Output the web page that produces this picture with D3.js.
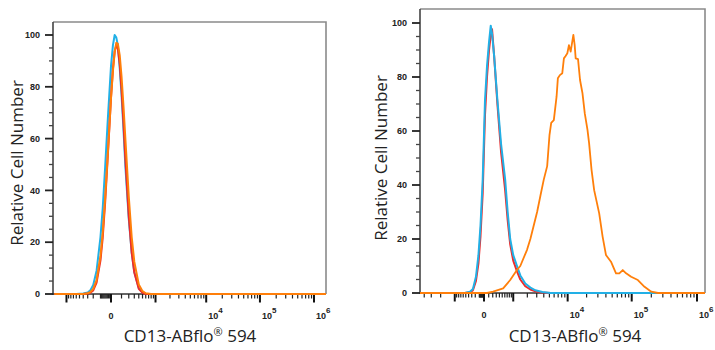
<!DOCTYPE html>
<html><head><meta charset="utf-8">
<script src="https://cdn.jsdelivr.net/npm/d3@7"></script>
<style>body{margin:0;background:#fff}svg{display:block}</style>
</head><body><svg id="c" width="715" height="350"></svg>
<script>
// ---- data ----
const yTicks = [0, 20, 40, 60, 80, 100];
const xMajorTicks = [-1000, 0, 1000, 10000, 100000, 1000000];
const xTickLabels = [
  {v: 0, base: "0", exp: ""},
  {v: 10000, base: "10", exp: "4"},
  {v: 100000, base: "10", exp: "5"},
  {v: 1000000, base: "10", exp: "6"}
];
const xTitle = "CD13-ABflo";
const xTitleSup = "®";
const xTitleEnd = " 594";
const yTitle = "Relative Cell Number";

// left panel (all three overlapping)
const leftX = [-1800, -600, -400, -300, -250, -200, -150, -100, -75, -50, -25, 0, 15, 30, 45, 60, 80, 100, 125, 150, 200, 250, 300, 400, 500, 600, 800, 1700000];
const leftCyan = [0, 0, 0.2, 0.6, 1.4, 3.5, 9, 22, 33, 49, 68, 88, 96, 100, 99, 96, 87, 77, 63, 49, 29, 16, 8.5, 2.3, 0.6, 0.1, 0, 0];
const leftRed = [0, 0, 0, 0.2, 0.5, 1.4, 4.4, 13, 21.7, 35.4, 54, 75.8, 86.8, 93.6, 96, 94.8, 88.6, 79, 65.5, 51.7, 30, 16, 8.3, 2, 0.5, 0, 0, 0];
const leftOrange = [0, 0, 0, 0.3, 0.7, 2, 5.4, 14.7, 23.6, 37, 54.7, 75.6, 86, 93.5, 97, 96.6, 92, 84, 72, 59.5, 37.6, 22, 12.5, 3.7, 1.1, 0.3, 0, 0];

// right panel controls
const rightX = [-5000, -535, -357, -265, -182, -120, -73, -26, 20, 62, 108, 149, 182, 237, 335, 460, 615, 723, 842, 1000, 1220, 1440, 1820, 2290, 2840, 3790, 5200, 1400000];
const rightCyan = [0, 0, 0.5, 1.5, 6, 14, 25, 42, 71.5, 84, 93, 99, 96, 88, 71.5, 55, 42, 30, 20, 14, 10, 6.5, 3.5, 2, 1, 0.4, 0, 0];
const rightRed = [0, 0, 0.3, 1, 4.5, 11, 21, 37, 66, 80, 90, 95.5, 97.7, 88, 70, 52, 38, 27, 18, 12, 8, 5, 2.5, 1.3, 0.6, 0.2, 0, 0];
// right panel stained sample
const rightOrangeX = [-5000, 62, 209, 535, 842, 1217, 1437, 1971, 2285, 3047, 3492, 3998, 4580, 5016, 5361, 5933, 6589, 6922, 7473, 8185, 8695, 9268, 9886, 10490, 11180, 12350, 12960, 13450, 14650, 15760, 17220, 18730, 20660, 21910, 23910, 26270, 31470, 35560, 40050, 47930, 57320, 64500, 72840, 81960, 97970, 124400, 157300, 199600, 253300, 1400000];
const rightOrange = [0, 0, 0.5, 1.7, 4.8, 8.5, 10, 16, 20, 30, 36, 42, 47, 58.5, 63, 64, 72.7, 79.5, 80.7, 81.4, 86.9, 87.8, 88.8, 91.8, 89.4, 95.6, 91.8, 86.9, 86.6, 78.9, 74, 66.5, 60.4, 55.4, 45.6, 38.1, 29.5, 20.9, 14.1, 11.6, 7.3, 7.3, 8.5, 7.3, 6, 4.8, 2.3, 0.5, 0, 0];

const COLORS = {cyan: "#22b0e6", red: "#ee2a2a", orange: "#ff7f0a"};

// minor tick values (logicle-like axis)
const xMinorTicks = [];
for (let k = 1; k <= 9; k++) xMinorTicks.push(-k * 10);
for (let k = 1; k <= 9; k++) { xMinorTicks.push(-k * 100); xMinorTicks.push(k * 100); }
for (let k = 2; k <= 9; k++) { xMinorTicks.push(-k * 1000); xMinorTicks.push(k * 1000); xMinorTicks.push(k * 10000); xMinorTicks.push(k * 100000); }

const svg = d3.select("#c");
const tickFont = "'Liberation Sans', Arial, sans-serif";
const titleFont = "'Open Sans', 'Noto Sans', sans-serif";

function panel(cfg, id) {
  const g = svg.append("g");
  const x = d3.scaleSymlog().constant(cfg.c).domain([0, 1e6]).range([cfg.zeroPx, cfg.e6Px]);
  const y = d3.scaleLinear().domain([0, 100]).range([cfg.y0, cfg.y100]);

  // frame top/right
  g.append("path")
    .attr("d", `M${cfg.x0},${cfg.top}H${cfg.x1}V${cfg.y0}`)
    .attr("fill", "none").attr("stroke", "#8a8a8a").attr("stroke-width", 1.6);

  // y axis
  const yAxis = g.append("g");
  yAxis.append("line").attr("x1", cfg.x0).attr("x2", cfg.x0).attr("y1", cfg.top).attr("y2", cfg.y0 + 1)
    .attr("stroke", "#444").attr("stroke-width", 1.6);
  const yMinor = d3.range(5, 100, 5).filter(v => v % 20 !== 0);
  yAxis.selectAll(".ym").data(yMinor).join("line")
    .attr("x1", cfg.x0 - 4).attr("x2", cfg.x0).attr("y1", d => y(d)).attr("y2", d => y(d))
    .attr("stroke", "#444").attr("stroke-width", 1.3);
  yAxis.selectAll(".yM").data(yTicks).join("line")
    .attr("x1", cfg.x0 - 8).attr("x2", cfg.x0).attr("y1", d => y(d)).attr("y2", d => y(d))
    .attr("stroke", "#222").attr("stroke-width", 1.8);
  yAxis.selectAll(".yl").data(yTicks).join("text")
    .attr("x", cfg.x0 - 13).attr("y", d => y(d) + 3.2)
    .attr("text-anchor", "end").attr("font-family", tickFont).attr("font-weight", "bold")
    .attr("font-size", 9).attr("fill", "#222").text(d => d);

  // x axis
  const xAxis = g.append("g");
  xAxis.append("line").attr("x1", cfg.x0).attr("x2", cfg.x1).attr("y1", cfg.y0).attr("y2", cfg.y0)
    .attr("stroke", "#333").attr("stroke-width", 1.6);
  const inside = v => { const p = x(v); return p >= cfg.x0 + 2 && p <= cfg.x1; };
  xAxis.selectAll(".xm").data(xMinorTicks.filter(inside)).join("line")
    .attr("x1", d => x(d)).attr("x2", d => x(d)).attr("y1", cfg.y0).attr("y2", cfg.y0 + 4.5)
    .attr("stroke", "#222").attr("stroke-width", 1.2);
  xAxis.selectAll(".xM").data(xMajorTicks.filter(inside)).join("line")
    .attr("x1", d => x(d)).attr("x2", d => x(d)).attr("y1", cfg.y0).attr("y2", cfg.y0 + 8.5)
    .attr("stroke", "#111").attr("stroke-width", 2);
  const lbl = xAxis.selectAll(".xl").data(xTickLabels).join("text")
    .attr("x", d => d.exp ? x(d.v) + 2 : x(d.v))
    .attr("y", cfg.y0 + 25)
    .attr("text-anchor", d => d.exp ? "start" : "middle")
    .attr("font-family", tickFont).attr("font-weight", "bold").attr("font-size", 9).attr("fill", "#222");
  lbl.append("tspan").text(d => d.base);
  lbl.filter(d => d.exp).append("tspan").attr("dy", -6).attr("font-size", 8).text(d => d.exp);

  // curves
  const clipId = "clip" + id;
  svg.append("clipPath").attr("id", clipId).append("rect")
    .attr("x", cfg.x0).attr("y", cfg.top).attr("width", cfg.x1 - cfg.x0).attr("height", cfg.y0 - cfg.top + 3);
  const line = d3.line().x(d => x(d[0])).y(d => y(d[1]));
  const cg = g.append("g").attr("clip-path", `url(#${clipId})`);
  cfg.series.forEach(s => {
    cg.append("path").datum(s.xs.map((v, i) => [v, s.ys[i]]))
      .attr("d", line).attr("fill", "none").attr("stroke", s.color)
      .attr("stroke-width", s.w).attr("stroke-linejoin", "round");
  });

  // titles
  const t = g.append("text").attr("x", cfg.xTitleX).attr("y", 342).attr("text-anchor", "middle")
    .attr("font-family", titleFont).attr("font-size", 17).attr("fill", "#222");
  t.append("tspan").text(xTitle);
  t.append("tspan").attr("dy", -6).attr("font-size", 11).text(xTitleSup);
  t.append("tspan").attr("dy", 6).text(xTitleEnd);

  g.append("text").attr("transform", `translate(${cfg.yTitleX},${cfg.yTitleY}) rotate(-90)`)
    .attr("text-anchor", "middle").attr("font-family", titleFont).attr("font-size", 17)
    .attr("fill", "#222").text(yTitle);
}

panel({
  x0: 53, x1: 326, top: 22, y0: 294, y100: 35, zeroPx: 111, e6Px: 314, c: 177,
  xTitleX: 190, yTitleX: 23, yTitleY: 163,
  series: [
    {xs: leftX, ys: leftCyan, color: COLORS.cyan, w: 2},
    {xs: leftX, ys: leftRed, color: COLORS.red, w: 2},
    {xs: leftX, ys: leftOrange, color: COLORS.orange, w: 2}
  ]
}, "L");

panel({
  x0: 420, x1: 705, top: 9, y0: 293, y100: 23, zeroPx: 484, e6Px: 697, c: 556,
  xTitleX: 575, yTitleX: 387, yTitleY: 158,
  series: [
    {xs: rightX, ys: rightRed, color: COLORS.red, w: 2},
    {xs: rightX, ys: rightCyan, color: COLORS.cyan, w: 2},
    {xs: rightOrangeX, ys: rightOrange, color: COLORS.orange, w: 1.8}
  ]
}, "R");
</script>
</body></html>
